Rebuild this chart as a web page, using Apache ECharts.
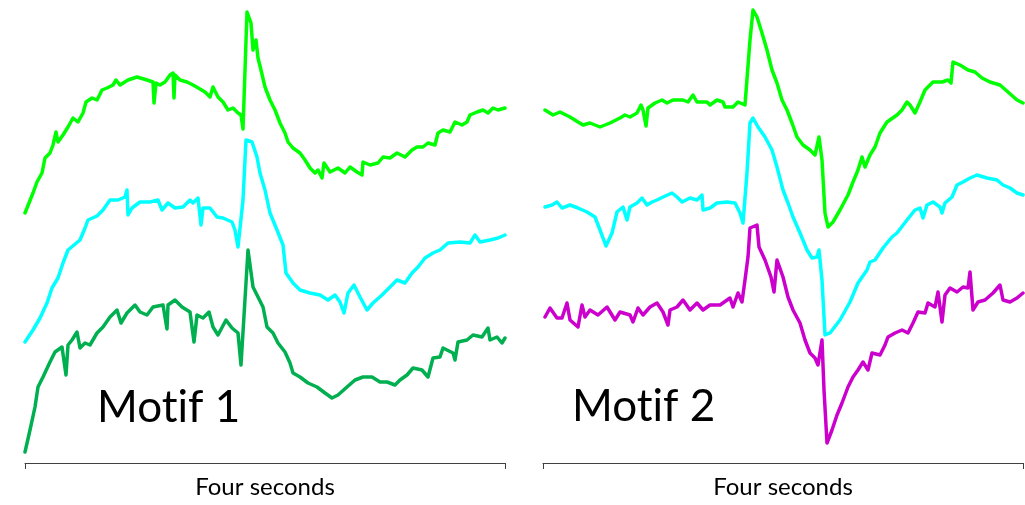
<!DOCTYPE html>
<html>
<head>
<meta charset="utf-8">
<script src="https://cdn.jsdelivr.net/npm/echarts@6/dist/echarts.min.js"></script>
<style>
  html, body { margin: 0; padding: 0; background: #fff; }
  #main { width: 1025px; height: 505px; }
</style>
</head>
<body>
<div id="main"></div>
<script>
// x = sample index over four seconds (0..480), y = amplitude (arbitrary units, offset per trace)
var motif1Top = [[0,250],[8,270],[12,281],[17,290],[20,305],[25,310],[28,318],[31,331],[33,321],[38,328],[43,336],[48,345],[53,341],[58,350],[61,361],[67,365],[72,363],[77,373],[82,375],[88,378],[91,383],[95,378],[103,383],[112,386],[122,383],[128,381],[129,360],[131,380],[135,378],[140,381],[145,388],[148,390],[149,365],[150,388],[155,383],[162,381],[168,378],[175,374],[180,371],[185,366],[188,376],[193,366],[198,361],[203,353],[208,355],[213,350],[216,348],[218,334],[222,451],[226,440],[228,413],[231,423],[233,405],[236,393],[240,376],[245,363],[250,353],[255,340],[260,330],[263,321],[268,315],[275,310],[280,303],[285,295],[290,290],[293,293],[297,285],[299,300],[305,291],[313,295],[320,290],[325,296],[332,291],[337,288],[338,301],[345,298],[353,300],[358,306],[365,305],[372,310],[380,306],[387,313],[392,316],[398,316],[403,320],[410,318],[413,330],[418,333],[425,331],[430,341],[437,338],[442,341],[445,348],[452,351],[458,353],[463,350],[468,355],[473,353],[480,355]];

var motif1Mid = [[0,121],[8,133],[15,145],[22,160],[27,175],[33,185],[38,200],[43,213],[55,223],[60,235],[63,243],[72,247],[78,253],[85,263],[93,263],[100,266],[102,273],[103,248],[107,255],[115,261],[125,261],[133,263],[137,253],[143,260],[150,255],[158,256],[165,263],[168,260],[173,265],[176,238],[178,255],[185,255],[192,246],[198,245],[207,241],[210,233],[213,216],[218,263],[221,323],[227,321],[232,306],[235,290],[240,273],[245,250],[252,233],[258,218],[261,190],[268,180],[275,173],[285,170],[295,168],[303,163],[310,168],[315,161],[319,150],[323,170],[329,178],[335,166],[342,153],[348,160],[357,168],[367,178],[372,183],[380,180],[387,190],[393,196],[400,205],[408,210],[415,213],[423,220],[435,221],[445,220],[450,228],[455,221],[465,223],[473,225],[480,228]];

var motif1Low = [[0,11],[5,33],[10,56],[13,76],[18,86],[25,101],[30,111],[37,116],[38,118],[41,88],[43,118],[47,123],[52,131],[55,115],[60,120],[65,118],[72,130],[78,136],[85,146],[92,153],[96,140],[102,150],[110,158],[115,151],[122,148],[128,156],[138,158],[142,134],[143,158],[150,163],[157,156],[165,151],[169,121],[172,148],[178,145],[184,151],[188,136],[193,128],[201,143],[207,135],[213,130],[216,98],[223,213],[228,176],[233,166],[238,156],[242,136],[248,130],[253,120],[260,111],[265,100],[268,90],[275,86],[283,80],[292,76],[300,70],[307,65],[313,68],[322,76],[330,83],[338,86],[347,86],[355,81],[362,81],[370,78],[375,83],[382,88],[388,95],[397,93],[403,86],[408,105],[415,106],[418,115],[428,110],[430,103],[433,121],[442,123],[448,128],[457,126],[463,135],[465,123],[472,126],[477,120],[480,125]];

var motif2Top = [[2,353],[10,348],[17,351],[27,346],[35,341],[40,338],[47,340],[57,336],[67,340],[77,345],[82,348],[87,346],[94,350],[98,358],[100,353],[103,337],[105,355],[112,360],[119,363],[124,360],[130,363],[140,363],[145,361],[150,368],[154,361],[164,361],[167,358],[174,363],[180,361],[182,356],[190,356],[195,361],[202,358],[204,360],[207,423],[210,453],[214,446],[219,430],[224,413],[229,393],[234,380],[239,363],[244,353],[249,340],[254,326],[260,318],[267,313],[272,308],[274,306],[276,326],[279,303],[282,250],[285,236],[290,241],[297,253],[305,268],[310,281],[315,293],[319,306],[322,296],[327,308],[332,316],[337,330],[344,341],[354,348],[359,353],[364,361],[367,358],[372,350],[377,361],[382,373],[390,381],[399,381],[405,383],[408,380],[410,401],[417,398],[425,393],[432,391],[439,385],[447,381],[457,378],[465,371],[474,363],[480,360]];

var motif2Mid = [[2,256],[9,258],[14,261],[19,255],[27,258],[35,255],[44,251],[52,246],[57,233],[63,217],[69,230],[74,251],[80,256],[84,243],[87,256],[94,260],[99,265],[104,258],[109,261],[114,263],[120,266],[129,270],[134,266],[139,261],[147,265],[154,263],[159,268],[160,253],[167,255],[174,260],[184,261],[192,260],[197,250],[200,240],[204,290],[207,340],[210,345],[215,336],[222,326],[229,313],[234,296],[240,273],[245,260],[250,246],[257,230],[264,213],[269,205],[274,206],[276,213],[279,183],[282,128],[287,130],[297,143],[307,161],[315,180],[324,193],[327,201],[332,203],[340,215],[349,226],[354,230],[364,243],[372,253],[377,255],[380,245],[384,258],[390,261],[397,256],[399,250],[402,260],[409,266],[414,278],[420,281],[427,285],[434,288],[444,285],[454,283],[460,278],[467,275],[474,270],[480,268]];

var motif2Low = [[2,146],[7,155],[14,145],[19,145],[24,160],[27,143],[35,136],[39,158],[42,146],[47,153],[55,148],[64,156],[72,143],[77,151],[87,148],[90,141],[95,155],[100,148],[107,156],[114,160],[120,151],[125,138],[127,153],[134,156],[140,163],[147,153],[154,160],[160,153],[167,158],[177,158],[187,165],[190,156],[195,170],[199,161],[202,183],[205,206],[207,235],[214,238],[216,216],[222,203],[228,186],[231,171],[234,203],[240,186],[245,166],[250,153],[257,140],[262,123],[267,110],[272,105],[275,98],[279,123],[281,73],[284,20],[289,33],[294,48],[299,60],[305,76],[310,86],[315,93],[320,101],[325,93],[329,110],[337,108],[342,118],[345,126],[352,130],[359,133],[365,130],[370,140],[375,151],[382,150],[385,160],[392,156],[395,171],[399,141],[402,168],[407,175],[414,171],[420,176],[425,175],[427,191],[430,153],[435,161],[442,163],[450,170],[457,178],[460,163],[467,161],[474,165],[480,170]];

// zero-width non-joiner keeps t and i apart (no "ti" ligature in Lato)
var panelNames = ['Mot\u200Cif 1', 'Mot\u200Cif 2'];
var axisName = 'Four seconds';

var myChart = echarts.init(document.getElementById('main'));

function xAx(idx) {
  return {
    type: 'value', gridIndex: idx, min: 0, max: 480, interval: 480,
    position: 'bottom',
    name: axisName, nameLocation: 'middle', nameGap: 12,
    nameTextStyle: { color: '#000', fontSize: 24, fontFamily: 'Lato' },
    axisLine: { show: true, onZero: false, lineStyle: { color: '#404040', width: 1 } },
    axisTick: { show: true, inside: false, length: 6, lineStyle: { color: '#404040' } },
    axisLabel: { show: false },
    splitLine: { show: false }
  };
}
function yAx(idx) {
  return {
    type: 'value', gridIndex: idx, min: 0, max: 463, show: false,
    splitLine: { show: false }
  };
}
function line(data, color, idx) {
  return {
    type: 'line', xAxisIndex: idx, yAxisIndex: idx, data: data,
    showSymbol: false, smooth: false,
    lineStyle: { color: color, width: 3.5, join: 'round', cap: 'round' }
  };
}

option = {
  animation: false,
  backgroundColor: '#fff',
  grid: [
    { left: 25, top: 0, width: 480, height: 463 },
    { left: 543, top: 0, width: 480, height: 463 }
  ],
  xAxis: [xAx(0), xAx(1)],
  yAxis: [yAx(0), yAx(1)],
  graphic: [
    { type: 'text', left: 97, top: 386, style: { text: panelNames[0], fontSize: 44, fontFamily: 'Lato', fill: '#000' } },
    { type: 'text', left: 572, top: 385, style: { text: panelNames[1], fontSize: 44, fontFamily: 'Lato', fill: '#000' } }
  ],
  series: [
    line(motif1Top, '#00ff00', 0),
    line(motif1Mid, '#00ffff', 0),
    line(motif1Low, '#00b050', 0),
    line(motif2Top, '#00ff00', 1),
    line(motif2Mid, '#00ffff', 1),
    line(motif2Low, '#cc00cc', 1)
  ]
};
myChart.setOption(option);
window.addEventListener('resize', function () {
  myChart.resize();
});
</script>
</body>
</html>
